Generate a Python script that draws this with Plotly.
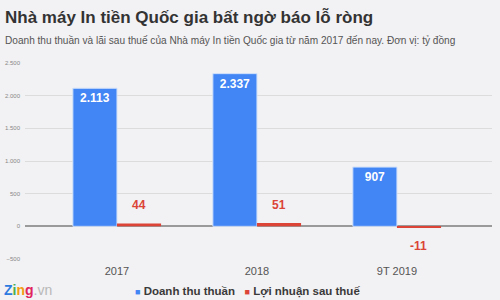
import plotly.graph_objects as go

categories = ["2017", "2018", "9T 2019"]
revenue = [2113, 2337, 907]
profit = [44, 51, -11]
y_ticks = [-500, 0, 500, 1000, 1500, 2000, 2500]
series_names = ["Doanh thu thuần", "Lợi nhuận sau thuế"]

BLUE = "#4285f4"
RED = "#db4437"
BG = "#f2f1f3"
FONT = "Arial, Liberation Sans, sans-serif"

fig = go.Figure()
fig.add_trace(go.Bar(
    x=categories, y=revenue, name=series_names[0],
    marker=dict(color=BLUE, line=dict(color="#cfe0fb", width=1)),
    texttemplate="<b>%{y:,d}</b>", textposition="inside", insidetextanchor="end",
    textfont=dict(color="white", size=12, family=FONT),
    showlegend=False,
))
fig.add_trace(go.Bar(
    x=categories, y=profit, name=series_names[1],
    marker=dict(color=RED, line=dict(width=0)),
    showlegend=False,
))

annotations = []
for i, v in enumerate(profit):
    annotations.append(dict(
        x=i, y=v, xref="x", yref="y", text=f"<b>{v}</b>", showarrow=False,
        xshift=22, yshift=18 if v >= 0 else -19,
        font=dict(color=RED, size=12, family=FONT),
    ))

annotations.append(dict(
    xref="paper", yref="paper", x=-0.047, y=1.23, xanchor="left", yanchor="middle",
    text="<b>Nhà máy In tiền Quốc gia bất ngờ báo lỗ ròng</b>", showarrow=False,
    font=dict(size=17, color="#333333", family=FONT),
))
annotations.append(dict(
    xref="paper", yref="paper", x=-0.047, y=1.117, xanchor="left", yanchor="middle",
    text="Doanh thu thuần và lãi sau thuế của Nhà máy In tiền Quốc gia từ năm 2017 đến nay. Đơn vị: tỷ đồng",
    showarrow=False,
    font=dict(size=10.1, color="#555555", family=FONT),
))
# legend
legend_text = (f"<span style='color:{BLUE};font-size:9px'>■</span> <b>{series_names[0]}</b>   "
               f"<span style='color:{RED};font-size:9px'>■</span> <b>{series_names[1]}</b>")
annotations.append(dict(
    xref="paper", yref="paper", x=0.476, y=-0.168, xanchor="center", yanchor="middle",
    text=legend_text, showarrow=False,
    font=dict(size=11.5, color="#3a3a3a", family=FONT),
))
# logo
annotations.append(dict(
    xref="paper", yref="paper", x=-0.049, y=-0.209, xanchor="left", yanchor="bottom",
    text=("<b><span style='color:#2d7be0'>Z</span><span style='color:#4caf50'>i</span>"
          "<span style='color:#f39c12'>n</span><span style='color:#e0245e'>g</span></b>"
          "<span style='color:#b8b8b8'>.vn</span>"),
    showarrow=False,
    font=dict(size=14, family=FONT),
))

fig.update_layout(
    width=500, height=300,
    margin=dict(l=25, r=8, t=63, b=41, autoexpand=False),
    paper_bgcolor=BG, plot_bgcolor=BG,
    separators=",.",
    barmode="group", bargap=0.37, bargroupgap=0,
    showlegend=False,
    annotations=annotations,
    font=dict(family=FONT),
)
fig.update_xaxes(
    type="category",
    range=[-0.657, 2.679], showgrid=False, zeroline=False, showline=False,
    ticks="", tickfont=dict(size=11, color="#555555"), ticklabelstandoff=4,
)
fig.update_yaxes(
    range=[-500, 2500], tickvals=y_ticks, tickformat=",d",
    showgrid=True, gridcolor="#dcdcdc", gridwidth=1,
    zeroline=True, zerolinecolor="#9a9a9a", zerolinewidth=1.5,
    tickfont=dict(size=6, color="#888888"), ticks="", ticklabelstandoff=4,
)

fig.write_html("out.html")
